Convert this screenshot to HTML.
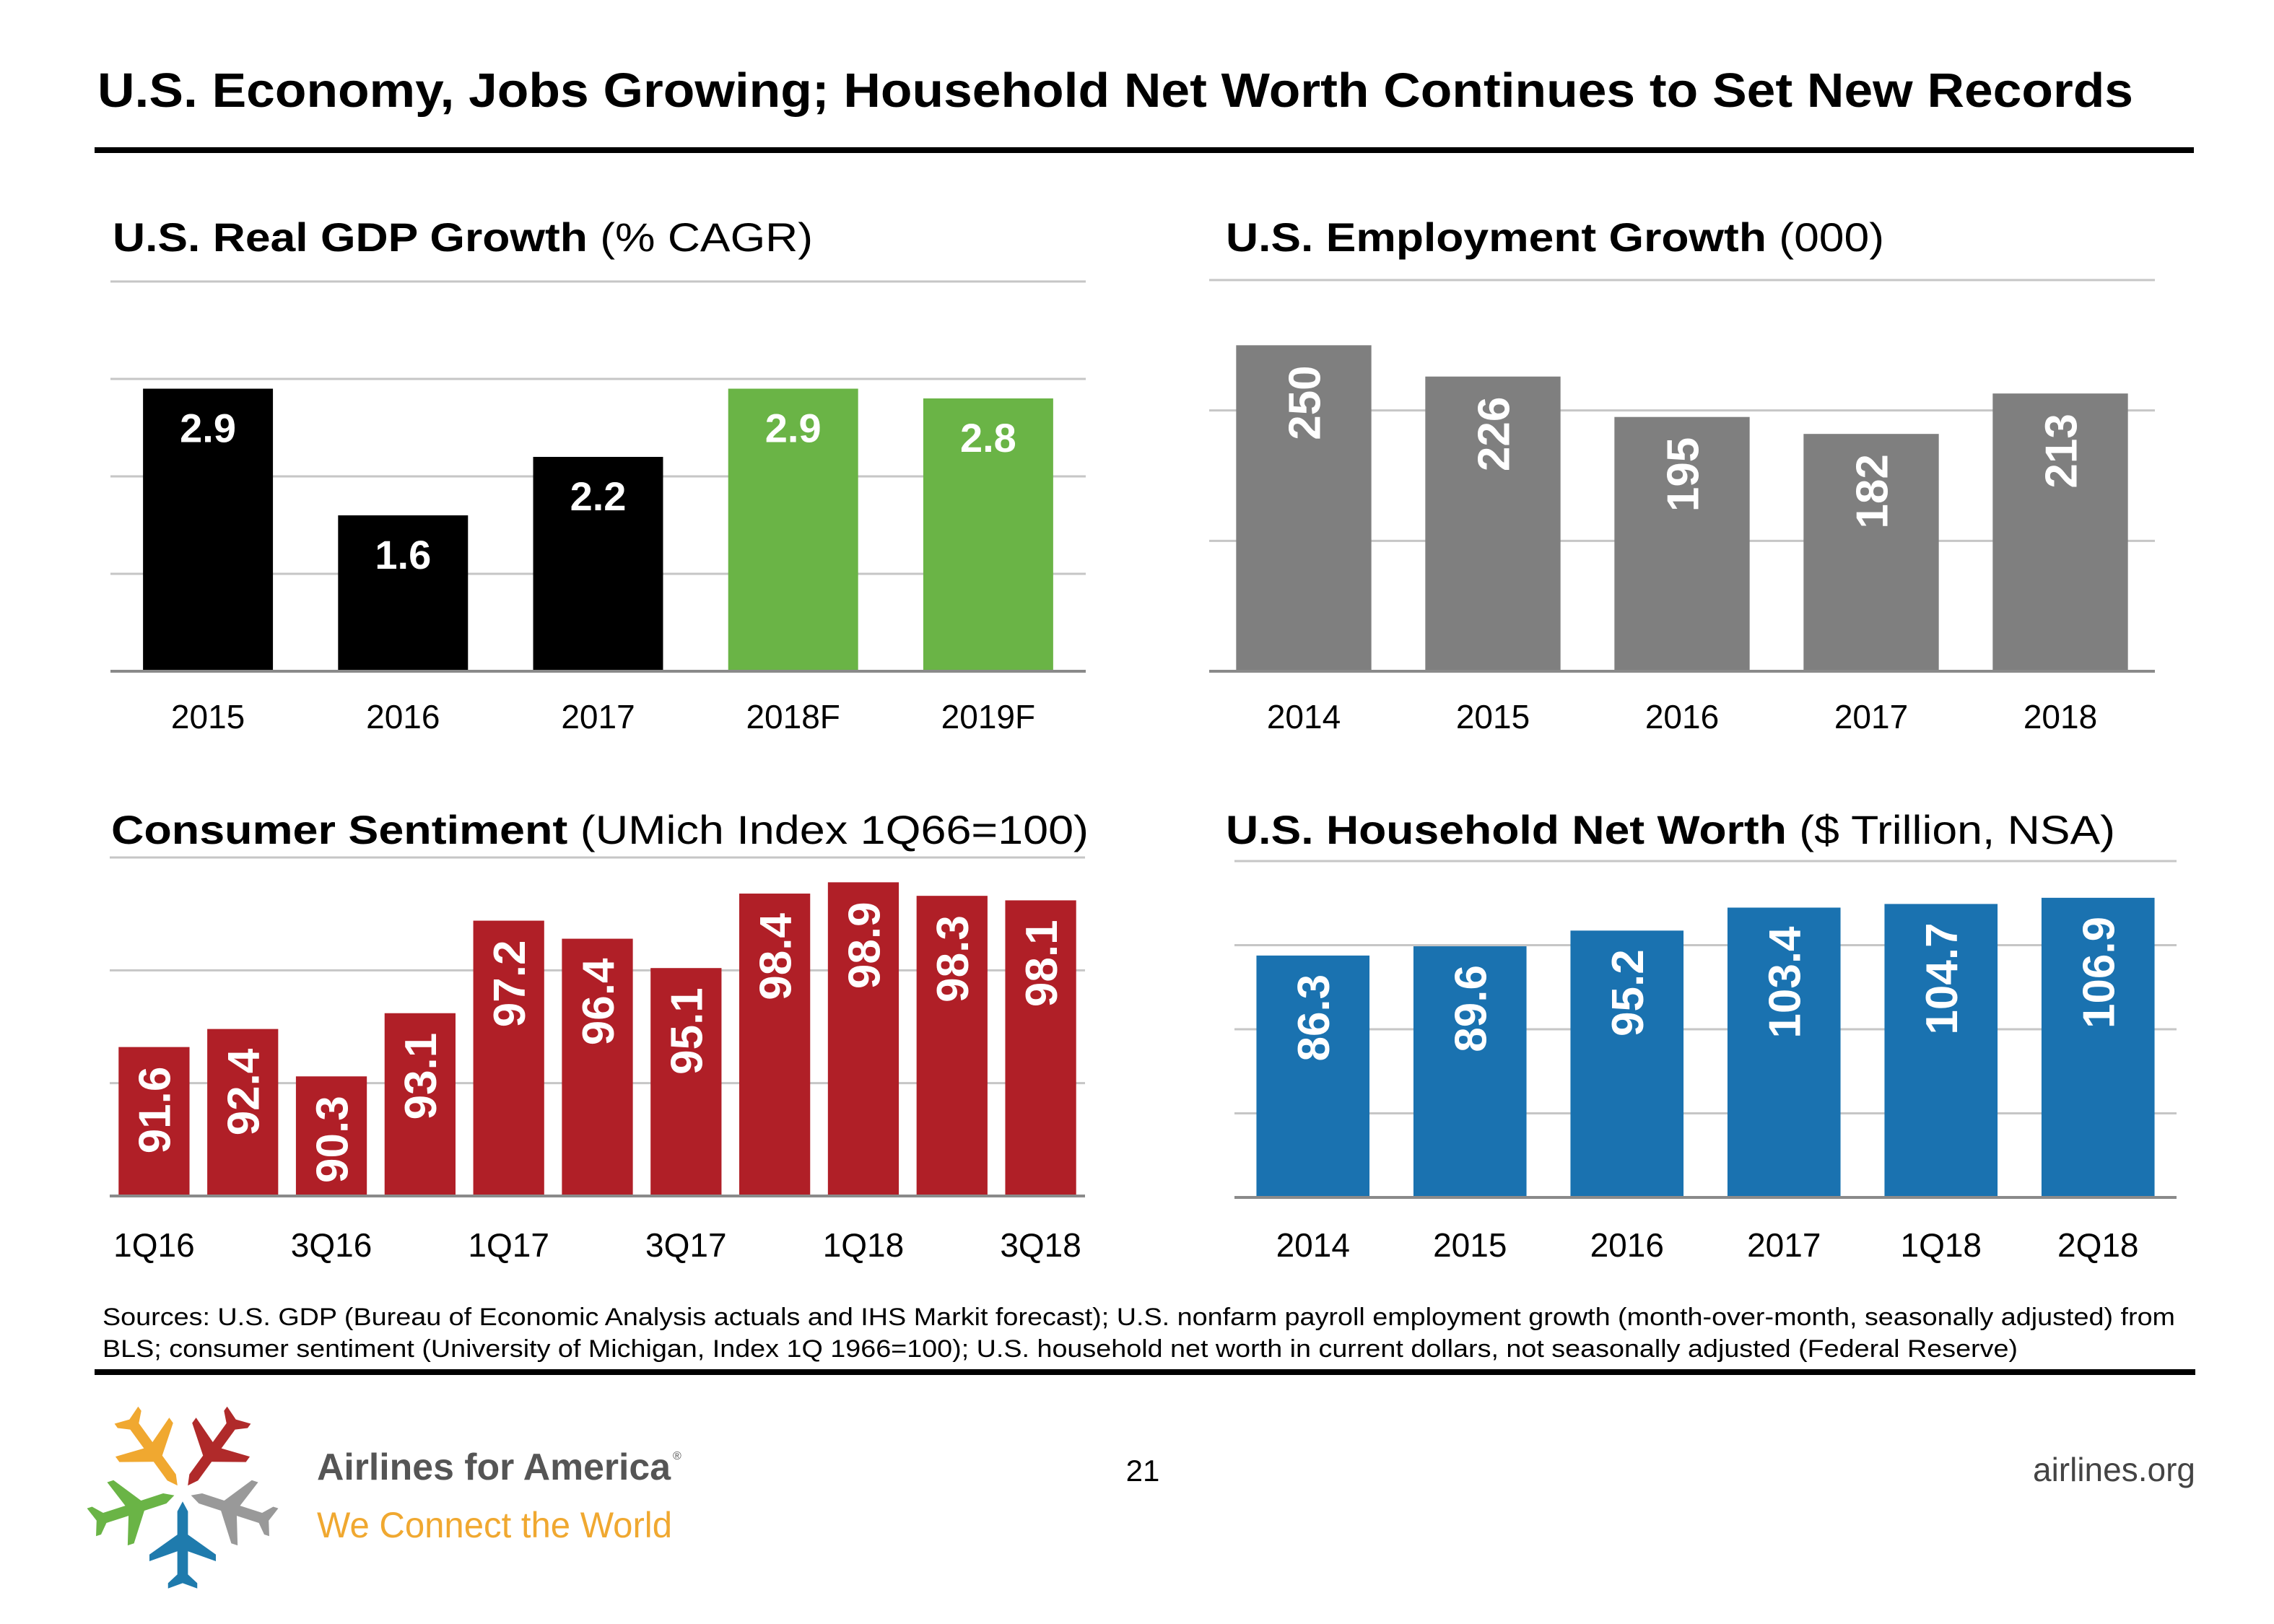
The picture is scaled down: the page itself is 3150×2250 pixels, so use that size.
<!DOCTYPE html>
<html><head><meta charset="utf-8">
<style>
html,body{margin:0;padding:0;background:#fff;}
svg{display:block;font-family:"Liberation Sans",Arial,sans-serif;}
</style></head>
<body>
<svg id="s" width="3150" height="2250" viewBox="0 0 3150 2250" xmlns="http://www.w3.org/2000/svg">
  <text x="135" y="148" font-size="67" font-weight="bold" textLength="2820" lengthAdjust="spacingAndGlyphs">U.S. Economy, Jobs Growing; Household Net Worth Continues to Set New Records</text>
  <rect x="131" y="204" width="2908" height="8" fill="#000"/>

  <text x="156" y="348" font-size="56" textLength="970" lengthAdjust="spacingAndGlyphs"><tspan font-weight="bold">U.S. Real GDP Growth</tspan> (% CAGR)</text>
  <text x="1698" y="348" font-size="56" textLength="912" lengthAdjust="spacingAndGlyphs"><tspan font-weight="bold">U.S. Employment Growth</tspan> (000)</text>
  <text x="154" y="1169" font-size="56" textLength="1354" lengthAdjust="spacingAndGlyphs"><tspan font-weight="bold">Consumer Sentiment</tspan> (UMich Index 1Q66=100)</text>
  <text x="1698" y="1169" font-size="56" textLength="1232" lengthAdjust="spacingAndGlyphs"><tspan font-weight="bold">U.S. Household Net Worth</tspan> ($ Trillion, NSA)</text>

  <g id="c1"></g>
  <g id="c2"></g>
  <g id="c3"></g>
  <g id="c4"></g>

  <text x="142" y="1836" font-size="34" textLength="2871" lengthAdjust="spacingAndGlyphs">Sources: U.S. GDP (Bureau of Economic Analysis actuals and IHS Markit forecast); U.S. nonfarm payroll employment growth (month-over-month, seasonally adjusted) from</text>
  <text x="142" y="1880" font-size="34" textLength="2653" lengthAdjust="spacingAndGlyphs">BLS; consumer sentiment (University of Michigan, Index 1Q 1966=100); U.S. household net worth in current dollars, not seasonally adjusted (Federal Reserve)</text>
  <rect x="131" y="1897" width="2910" height="8" fill="#000"/>

  <g id="logo"></g>
  <text x="439" y="2050" font-size="52" font-weight="bold" fill="#555" textLength="490" lengthAdjust="spacingAndGlyphs">Airlines for America</text>
  <text x="932" y="2022" font-size="16" fill="#555">®</text>
  <text x="439" y="2130" font-size="50" fill="#f0a830" textLength="492" lengthAdjust="spacingAndGlyphs">We Connect the World</text>
  <text x="1583" y="2052" font-size="42" text-anchor="middle">21</text>
  <text x="3041" y="2052" font-size="46" fill="#444" text-anchor="end">airlines.org</text>
</svg>
<script>
var NS='http://www.w3.org/2000/svg';
// GDP
var gdpCats=['2015','2016','2017','2018F','2019F'];
var gdpVals=[2.9,1.6,2.2,2.9,2.8];
var gdpTicks=[1,2,3,4];
// Employment
var empCats=['2014','2015','2016','2017','2018'];
var empVals=[250,226,195,182,213];
var empTicks=[100,200,300];
// Sentiment
var senCats=['1Q16','2Q16','3Q16','4Q16','1Q17','2Q17','3Q17','4Q17','1Q18','2Q18','3Q18'];
var senVals=[91.6,92.4,90.3,93.1,97.2,96.4,95.1,98.4,98.9,98.3,98.1];
var senTicks=[90,95,100];
var senShownLabels=['1Q16','3Q16','1Q17','3Q17','1Q18','3Q18'];
// Net worth
var nwCats=['2014','2015','2016','2017','1Q18','2Q18'];
var nwVals=[86.3,89.6,95.2,103.4,104.7,106.9];
var nwTicks=[30,60,90,120];

function mk(parent,tag,attrs){var e=document.createElementNS(NS,tag);for(var k in attrs)e.setAttribute(k,attrs[k]);parent.appendChild(e);return e;}

function chart(o){
  var g=document.getElementById(o.id);
  var yScale=function(v){return o.y0-(v-o.vmin)/(o.vmax-o.vmin)*(o.y0-o.y1);};
  var band=(o.x1-o.x0)/o.cats.length;
  o.ticks.forEach(function(t){
    var l=mk(g,'line',{x1:o.x0,x2:o.x1,y1:yScale(t),y2:yScale(t),stroke:'#c6c6c6','stroke-width':3});
    
    
  });
  o.cats.forEach(function(c,i){
    var v=o.vals[i];
    var w=band*o.ratio, x=o.x0+band*i+(band-w)/2, top=yScale(v);
    var col=typeof o.color==='function'?o.color(i):o.color;
    var r=mk(g,'rect',{x:x,y:top,width:w,height:o.y0-top,fill:col});
    
    
    var cx=x+w/2,t;
    if(o.rot){
      t=mk(g,'text',{x:0,y:0,transform:'translate('+(cx+o.fs*0.36)+','+(top+o.gap)+') rotate(-90)','text-anchor':'end','font-size':o.fs,'font-weight':'bold',fill:'#fff'});
    }else{
      t=mk(g,'text',{x:cx,y:top+74,'text-anchor':'middle','font-size':o.fs,'font-weight':'bold',fill:'#fff'});
    }
    t.textContent=String(v);
    
    
    if(!o.shown||o.shown.indexOf(c)>=0){
      var xl=mk(g,'text',{x:cx,y:o.labY,'text-anchor':'middle','font-size':46,fill:'#000'});
      xl.textContent=c;
      
      
    }
  });
  var b=mk(g,'line',{x1:o.x0,x2:o.x1,y1:o.y0,y2:o.y0,stroke:'#8a8a8a','stroke-width':4});
  
  
}
chart({id:'c1',cats:gdpCats,vals:gdpVals,ticks:gdpTicks,vmin:0,vmax:4,y0:930,y1:390,x0:153,x1:1504,ratio:0.666,color:function(i){return i<3?'#000':'#6ab446';},fs:56,rot:false,labY:1009});
chart({id:'c2',cats:empCats,vals:empVals,ticks:empTicks,vmin:0,vmax:300,y0:930,y1:388,x0:1675,x1:2985,ratio:0.715,color:'#7f7f7f',fs:62,rot:true,gap:28,labY:1009});
chart({id:'c3',cats:senCats,vals:senVals,ticks:senTicks,vmin:85,vmax:100,y0:1657,y1:1188,x0:152,x1:1503,ratio:0.8,color:'#b01f27',fs:62,rot:true,gap:27,labY:1741,shown:senShownLabels});
chart({id:'c4',cats:nwCats,vals:nwVals,ticks:nwTicks,vmin:0,vmax:120,y0:1659,y1:1193,x0:1710,x1:3015,ratio:0.72,color:'#1a72b0',fs:62,rot:true,gap:26,labY:1741});

// logo
(function(){
  var g=document.getElementById('logo');
  var d='M0,-65 L8,-50 L8,-15 L50,15 L50,25 L8,10 L8,45 L22,58 L22,66 L0,58 L-22,66 L-22,58 L-8,45 L-8,10 L-50,25 L-50,15 L-8,-15 L-8,-50 Z';
  var cols=['#1f7bad','#6ab446','#f0a830','#b02a2a','#999999'];
  var names=['plane-blue','plane-green','plane-orange','plane-red','plane-gray'];
  for(var i=0;i<5;i++){
    var a=i*72;
    var p=mk(g,'path',{d:d,fill:cols[i],transform:'translate(253,2068) rotate('+a+') translate(0,72) scale(0.92)'});
    
    
  }
})();
</script>
</body></html>
